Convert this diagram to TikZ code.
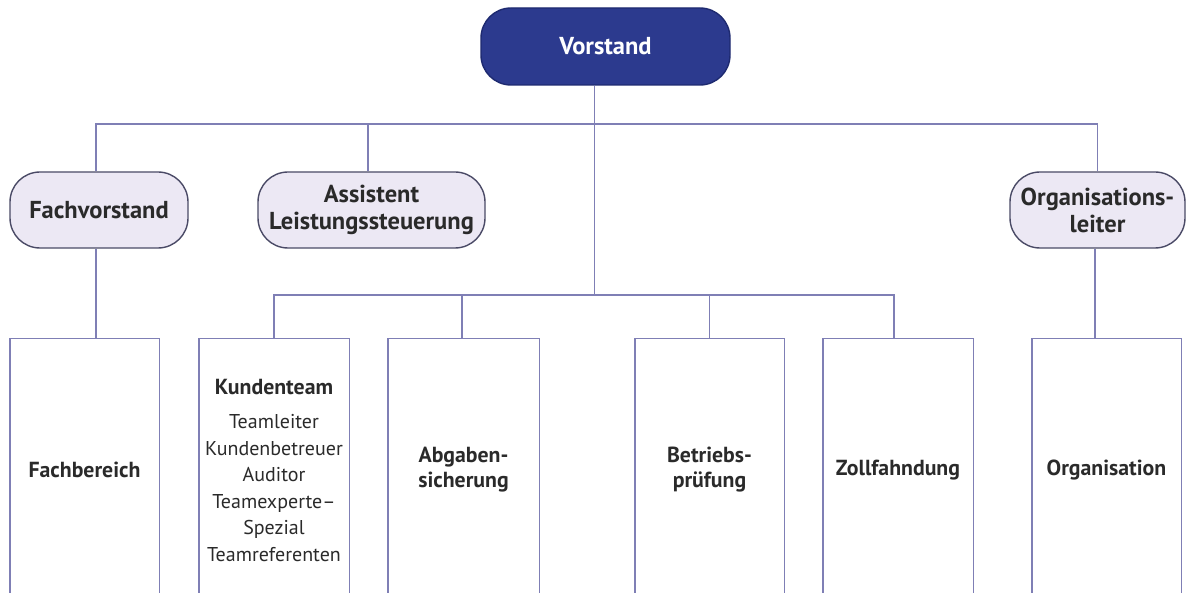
\documentclass[tikz,border=0pt]{standalone}
\usepackage{fontspec}
\setmainfont{PT Sans}
\definecolor{linec}{HTML}{7F7FB5}
\definecolor{pillf}{HTML}{ECE8F4}
\definecolor{pillb}{HTML}{4A4A66}
\definecolor{vfill}{HTML}{2C3A8E}
\definecolor{vdraw}{HTML}{1E2A70}
\definecolor{txt}{HTML}{2A2A2A}
\newcommand{\regline}[1]{{\mdseries\fontsize{20}{26.5}\selectfont #1}}
\begin{document}
\begin{tikzpicture}[x=1pt,y=-1pt,
  line/.style={draw=linec, line width=1.4pt},
  pill/.style={rounded corners=30pt, draw=pillb, fill=pillf, line width=1.4pt,
    font=\bfseries\fontsize{24.5}{27}\selectfont, text=txt, align=center, inner sep=0pt, minimum height=76pt},
  unit/.style={minimum height=262pt, inner sep=0pt, align=center,
    font=\bfseries\fontsize{21.8}{25}\selectfont, text=txt}]
\useasboundingbox (0,0) rectangle (1187,593);
\clip (0,0) rectangle (1187,593);
% top
\node[pill, fill=vfill, draw=vdraw, text=white, minimum width=249pt, minimum height=77pt] (vorstand) at (605.5,46.5) {Vorstand};
% second level
\node[pill, minimum width=178pt] (fach) at (99,210) {Fachvorstand};
\node[pill, minimum width=227pt] (assist) at (371.5,210) {Assistent\\Leistungssteuerung};
\node[pill, minimum width=175pt] (orgl) at (1097.5,210) {Organisations-\\leiter};
% units
\node[unit, minimum width=149pt] (fb) at (84.5,470) {Fachbereich};
\node[unit, minimum width=150pt, font=\bfseries\fontsize{21.8}{26.5}\selectfont] (kt) at (274,470)
  {Kundenteam\\[8pt]\regline{Teamleiter}\\\regline{Kundenbetreuer}\\\regline{Auditor}\\\regline{Teamexperte--}\\\regline{Spezial}\\\regline{Teamreferenten}};
\node[unit, minimum width=151pt] (ab) at (463.5,470) {Abgaben-\\sicherung};
\node[unit, minimum width=149pt] (bp) at (709.5,470) {Betriebs-\\prüfung};
\node[unit, minimum width=150pt] (zf) at (898,470) {Zollfahndung};
\node[unit, minimum width=149pt] (og) at (1106.5,470) {Organisation};
\foreach \n in {fb,kt,ab,bp,zf,og}
  \draw[line] (\n.south west) -- (\n.north west) -- (\n.north east) -- (\n.south east);
% connectors
\coordinate (j1) at (594.5,124);
\coordinate (j2) at (594.5,295);
\draw[line] (vorstand.south -| j1) -- (j2);
\draw[line] ([xshift=-3pt]fach.north) |- (j1) -| (orgl.north);
\draw[line] ([xshift=-3.5pt]assist.north) -- ([xshift=-3.5pt]assist.north |- j1);
\draw[line] ([xshift=-3pt]fach.south) -- ([xshift=-3pt]fach.south |- fb.north);
\draw[line] ([xshift=-2.5pt]orgl.south) -- ([xshift=-2.5pt]orgl.south |- og.north);
\draw[line] (kt.north) |- ([xshift=-4pt]zf.north |- j2) -- ([xshift=-4pt]zf.north);
\draw[line] ([xshift=-1.5pt]ab.north) -- ([xshift=-1.5pt]ab.north |- j2);
\draw[line] (bp.north) -- (bp.north |- j2);
\end{tikzpicture}
\end{document}
